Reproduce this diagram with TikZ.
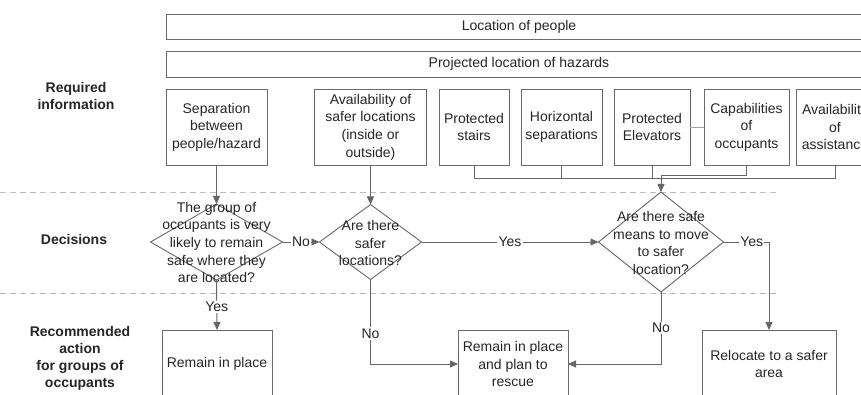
\documentclass[tikz,border=0pt]{standalone}
\usepackage{fontspec}
\setmainfont{Liberation Sans}
\usetikzlibrary{shapes.geometric,arrows.meta}
\definecolor{boxgray}{HTML}{6A6A6A}
\definecolor{linegray}{HTML}{666666}
\definecolor{txtgray}{HTML}{262626}
\definecolor{dashgray}{HTML}{BDBDBD}
\tikzset{
  base/.style={font=\fontsize{14}{17.6}\selectfont, text=txtgray, align=center, inner sep=0pt, outer sep=0pt},
  box/.style={base, draw=boxgray, line width=0.9pt, fill=white},
  dia/.style={diamond, draw=boxgray, line width=0.9pt, inner sep=0pt, outer sep=0pt},
  ttl/.style={base, font=\fontsize{14}{17}\selectfont\bfseries},
  conn/.style={draw=linegray, line width=0.9pt},
  arr/.style={conn, -{Triangle[length=8pt,width=7pt]}},
  elab/.style={base, fill=white, inner sep=1.2pt},
  sep/.style={draw=dashgray, line width=0.8pt, dash pattern=on 6pt off 4pt}
}
\begin{document}
\begin{tikzpicture}[x=1pt,y=-1pt]
\clip (0,0) rectangle (861,395);
\fill[white] (0,0) rectangle (861,395);

% separators
\draw[sep] (0,192) -- (777,192);
\draw[sep] (0,293) -- (777,293);

% left titles
\node[ttl] (t1) at (76,96) {Required\\information};
\node[ttl] (t2) at (74,239) {Decisions};
\node[ttl] (t3) at (80,358) {Recommended\\action\\for groups of\\occupants};

% top bars
\node[box, minimum width=706pt, minimum height=25pt] (locp) at (519,26.5) {Location of people};
\node[box, minimum width=706pt, minimum height=26pt] (loch) at (519,64) {Projected location of hazards};

% information boxes
\node[box, minimum width=101pt, minimum height=76pt] (sepb) at (216.5,127) {Separation\\between\\people/hazard};
\node[box, minimum width=112pt, minimum height=76pt] (avail) at (370.5,127) {Availability of\\safer locations\\(inside or\\outside)};
\node[box, minimum width=70pt, minimum height=76pt] (stairs) at (474,127) {Protected\\stairs};
\node[box, minimum width=81pt, minimum height=76pt] (horiz) at (561.5,127) {Horizontal\\separations};
\node[box, minimum width=76pt, minimum height=76pt] (elev) at (652,127) {Protected\\Elevators};
\node[box, minimum width=85pt, minimum height=76pt] (cap) at (746.5,127) {Capabilities\\of\\occupants};
\node[box, minimum width=78pt, minimum height=76pt] (assist) at (835,127) {Availability\\of\\assistance};

% decisions
\node[dia, minimum width=132pt, minimum height=76pt] (d1) at (216.5,242) {};
\node[base] (d1t) at (216.5,242.5) {The group of\\occupants is very\\likely to remain\\safe where they\\are located?};
\node[dia, minimum width=102pt, minimum height=75pt] (d2) at (370.5,242) {};
\node[base] (d2t) at (370.5,243) {Are there\\safer\\locations?};
\node[dia, minimum width=125pt, minimum height=100pt] (d3) at (661,242) {};
\node[base] (d3t) at (661,243) {Are there safe\\means to move\\to safer\\location?};

% actions
\node[box, minimum width=110pt, minimum height=68pt] (rem1) at (217,364) {Remain in place};
\node[box, minimum width=110pt, minimum height=68pt] (rem2) at (513,364) {Remain in place\\and plan to\\rescue};
\node[box, minimum width=134pt, minimum height=68pt] (reloc) at (769,364) {Relocate to a safer\\area};

% connectors from info boxes
\coordinate (bus) at (0,178);
\coordinate (bus2) at (0,175);
\draw[conn, draw=linegray!60] (elev.east) -- (cap.west);
\draw[conn] (stairs.south) |- (bus -| assist.south) -- (assist.south);
\draw[conn] (horiz.south) -- (horiz.south |- bus);
\draw[conn] (elev.south) -- (elev.south |- bus);
\draw[arr] (cap.south) |- (bus2 -| d3.north) -- (d3.north);
\draw[arr] (sepb.south) -- (d1.north);
\draw[arr] (avail.south) -- (d2.north);

% decision flow
\draw[arr] (d1.east) -- node[elab] (nol) {No} (d2.west);
\draw[arr] (d2.east) -- node[elab] (yesl) {Yes} (d3.west);
\draw[arr] (d3.east) -| node[elab, pos=0.31] (yes2) {Yes} (reloc.north);
\draw[arr] (d1.south) -- node[elab, pos=0.54] (yes1) {Yes} (rem1.north);
\draw[arr] (d2.south) |- node[elab, pos=0.32] (no2) {No} (rem2.west);
\draw[arr] (d3.south) |- node[elab, pos=0.25] (no3) {No} (rem2.east);
\end{tikzpicture}
\end{document}
